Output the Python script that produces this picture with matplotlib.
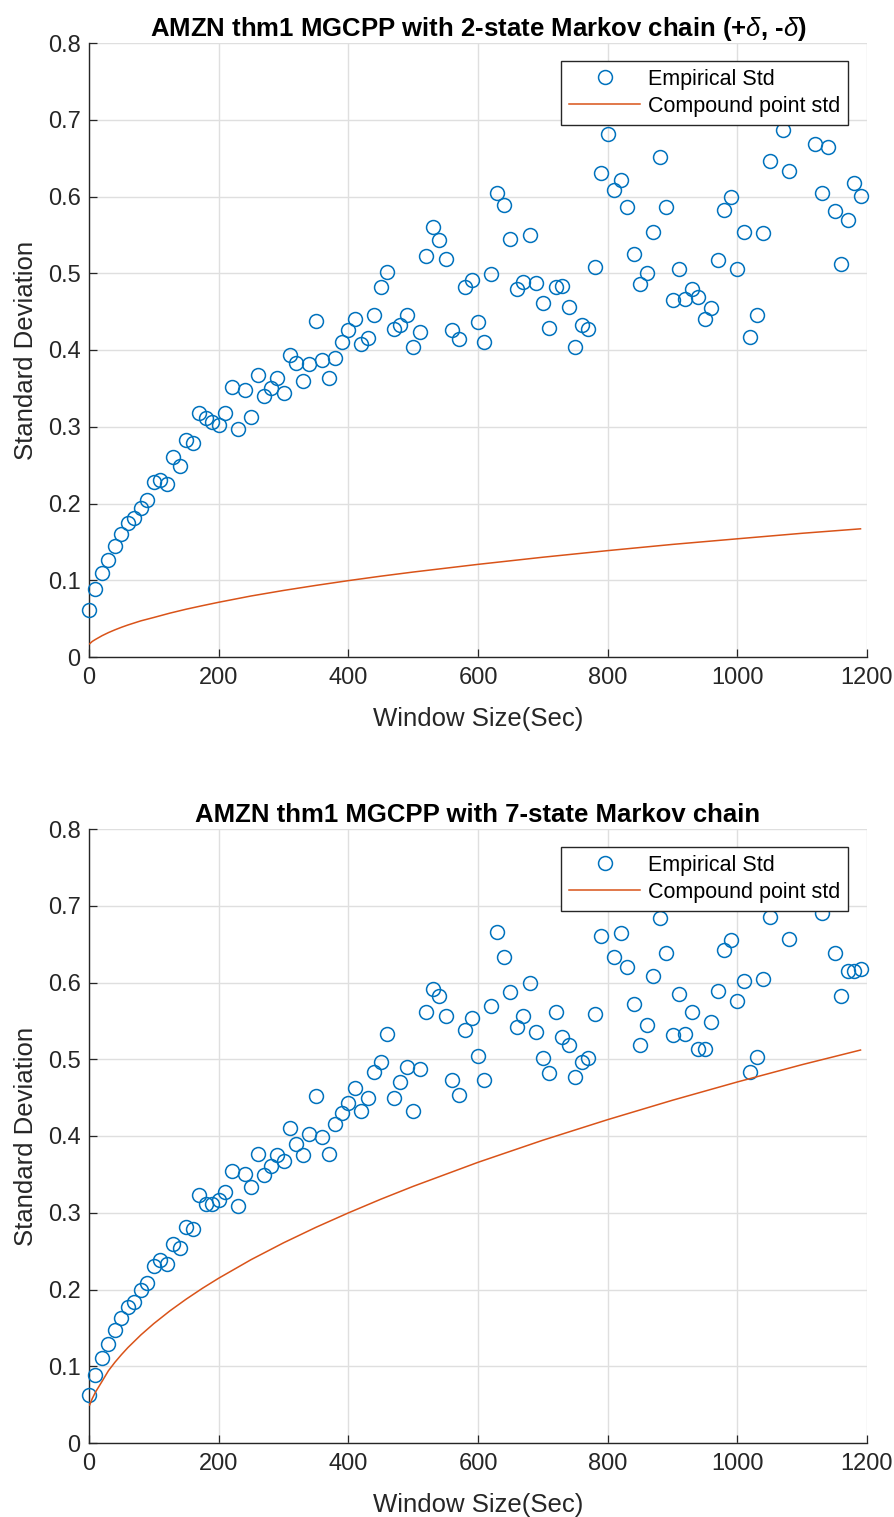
import matplotlib
matplotlib.use("Agg")
import matplotlib.pyplot as plt
from matplotlib import font_manager

# ---------------- data ----------------
window_sec = list(range(0, 1200, 10))

emp_std_2state = [
    0.061, 0.088, 0.110, 0.126, 0.145, 0.160, 0.175, 0.181, 0.194, 0.205,
    0.228, 0.231, 0.225, 0.260, 0.249, 0.283, 0.279, 0.318, 0.311, 0.306,
    0.302, 0.318, 0.352, 0.297, 0.348, 0.313, 0.367, 0.340, 0.351, 0.364,
    0.344, 0.394, 0.383, 0.360, 0.382, 0.438, 0.387, 0.364, 0.390, 0.410,
    0.426, 0.441, 0.408, 0.416, 0.446, 0.482, 0.501, 0.427, 0.432, 0.445,
    0.404, 0.423, 0.523, 0.560, 0.543, 0.519, 0.426, 0.414, 0.482, 0.491,
    0.437, 0.410, 0.499, 0.605, 0.589, 0.544, 0.480, 0.489, 0.550, 0.487,
    0.461, 0.429, 0.482, 0.484, 0.456, 0.404, 0.432, 0.427, 0.508, 0.630,
    0.681, 0.609, 0.622, 0.586, 0.525, 0.486, 0.500, 0.554, 0.652, 0.586,
    0.465, 0.506, 0.467, 0.480, 0.469, 0.441, 0.455, 0.517, 0.583, 0.599,
    0.505, 0.554, 0.417, 0.446, 0.552, 0.646, 0.730, 0.686, 0.633, 0.740,
    0.720, 0.750, 0.668, 0.604, 0.665, 0.581, 0.512, 0.570, 0.618, 0.601,
]

emp_std_7state = [
    0.062, 0.088, 0.111, 0.129, 0.147, 0.163, 0.177, 0.184, 0.199, 0.208,
    0.230, 0.238, 0.233, 0.259, 0.254, 0.282, 0.279, 0.323, 0.311, 0.311,
    0.316, 0.327, 0.354, 0.309, 0.350, 0.334, 0.377, 0.349, 0.361, 0.375,
    0.367, 0.411, 0.389, 0.375, 0.402, 0.452, 0.399, 0.377, 0.416, 0.430,
    0.443, 0.463, 0.433, 0.450, 0.483, 0.496, 0.533, 0.449, 0.470, 0.490,
    0.433, 0.487, 0.562, 0.592, 0.582, 0.557, 0.473, 0.453, 0.538, 0.554,
    0.504, 0.473, 0.570, 0.666, 0.633, 0.588, 0.542, 0.556, 0.600, 0.535,
    0.502, 0.482, 0.562, 0.529, 0.519, 0.477, 0.496, 0.501, 0.559, 0.661,
    0.730, 0.633, 0.665, 0.620, 0.572, 0.519, 0.544, 0.608, 0.684, 0.639,
    0.531, 0.585, 0.533, 0.561, 0.514, 0.513, 0.549, 0.589, 0.642, 0.655,
    0.576, 0.602, 0.483, 0.503, 0.605, 0.685, 0.740, 0.720, 0.657, 0.750,
    0.730, 0.740, 0.720, 0.691, 0.730, 0.639, 0.583, 0.615, 0.615, 0.617,
]

curve_x = [1, 5, 10, 20, 30, 40, 50, 60, 80, 100, 125, 150, 175, 200, 250,
           300, 350, 400, 450, 500, 600, 700, 800, 900, 1000, 1100, 1190]
compound_std_2state = [0.0172, 0.0203, 0.0229, 0.0277, 0.0318, 0.0354, 0.0387,
                       0.0417, 0.0471, 0.0515, 0.0572, 0.0623, 0.0669, 0.0713,
                       0.0795, 0.0867, 0.0933, 0.0995, 0.1053, 0.1107, 0.1207,
                       0.1300, 0.1386, 0.1467, 0.1540, 0.1612, 0.1670]
compound_std_7state = [0.0495, 0.0578, 0.0663, 0.0801, 0.0942, 0.1052, 0.1151,
                       0.1243, 0.1408, 0.1556, 0.1723, 0.1875, 0.2016, 0.2147,
                       0.2389, 0.2608, 0.2810, 0.2998, 0.3176, 0.3344, 0.3657,
                       0.3945, 0.4213, 0.4466, 0.4704, 0.4930, 0.5120]

titles = [r"AMZN thm1 MGCPP with 2-state Markov chain (+$\delta$, -$\delta$)",
          "AMZN thm1 MGCPP with 7-state Markov chain"]
x_ticks = [0, 200, 400, 600, 800, 1000, 1200]
y_ticks = [0, 0.1, 0.2, 0.3, 0.4, 0.5, 0.6, 0.7, 0.8]
y_tick_labels = ["0", "0.1", "0.2", "0.3", "0.4", "0.5", "0.6", "0.7", "0.8"]
x_tick_labels = ["0", "200", "400", "600", "800", "1000", "1200"]

# ---------------- style ----------------
names = {f.name for f in font_manager.fontManager.ttflist}
fam = "Liberation Sans" if "Liberation Sans" in names else "DejaVu Sans"
plt.rcParams["font.family"] = [fam, "DejaVu Sans"]
plt.rcParams["mathtext.fontset"] = "custom"
plt.rcParams["mathtext.it"] = fam + ":italic"
plt.rcParams["mathtext.rm"] = fam

BLUE = "#0072BD"
ORANGE = "#D95319"
DARK = "#262626"
GRID = "#DFDFDF"

W, H = 895, 1517
fig = plt.figure(figsize=(W / 100, H / 100), dpi=100)

left = 89 / W
width = (867 - 89) / W
height = (657 - 43) / H
ax_top = fig.add_axes([left, 1 - 657 / H, width, height])
ax_bot = fig.add_axes([left, 1 - 1443 / H, width, height])

for ax, emp, comp, title in [(ax_top, emp_std_2state, compound_std_2state, titles[0]),
                             (ax_bot, emp_std_7state, compound_std_7state, titles[1])]:
    ax.plot(window_sec, emp, linestyle="none", marker="o", markersize=10,
            markerfacecolor="none", markeredgecolor=BLUE, markeredgewidth=1.1,
            label="Empirical Std", zorder=3, clip_on=False)
    ax.plot(curve_x, comp, color=ORANGE, linewidth=1.1,
            label="Compound point std", zorder=3)

    ax.set_xlim(0, 1200)
    ax.set_ylim(0, 0.8)
    ax.set_xticks(x_ticks)
    ax.set_xticklabels(x_tick_labels)
    ax.set_yticks(y_ticks)
    ax.set_yticklabels(y_tick_labels)

    ax.grid(True, color=GRID, linewidth=1.0)
    ax.set_axisbelow(True)
    for s in ["top", "right"]:
        ax.spines[s].set_visible(False)
    for s in ["left", "bottom"]:
        ax.spines[s].set_color(DARK)
        ax.spines[s].set_linewidth(1.0)
    ax.tick_params(direction="in", length=5.5, width=0.9, colors=DARK,
                   labelsize=17, pad=6, top=False, right=False)
    ax.tick_params(axis="x", pad=7)

    ax.set_xlabel("Window Size(Sec)", fontsize=18.5, color=DARK, labelpad=13)
    ax.set_ylabel("Standard Deviation", fontsize=18.5, color=DARK, labelpad=7)
    ax.set_title(title, fontsize=18.5, fontweight="bold", color="black", pad=5)

    leg = ax.legend(loc="upper right", bbox_to_anchor=(0.9756, 0.9707),
                    borderaxespad=0, fontsize=15.5, frameon=True, fancybox=False,
                    framealpha=1, edgecolor=DARK, handlelength=3.3,
                    handletextpad=0.35, labelspacing=0.27, borderpad=0.37)
    leg.get_frame().set_linewidth(1.0)
    leg.set_zorder(10)

fig.savefig("out.png", dpi=100)
